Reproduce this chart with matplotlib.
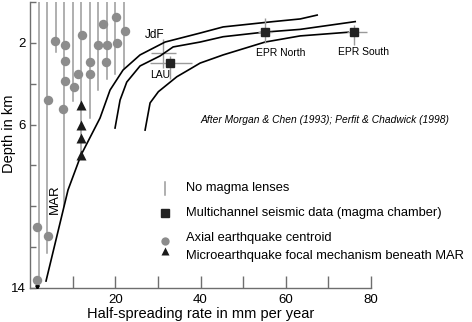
import matplotlib
matplotlib.use("Agg")

import matplotlib.pyplot as plt

plt.rcParams["font.family"] = ["Liberation Sans", "DejaVu Sans"]

GREY_LINE = "#9a9a9a"
GREY_DOT = "#8c8c8c"
AXIS_COL = "#6e6e6e"

# "No magma lenses": vertical bars from the sea floor down to depth (km)
lens_x = [2, 4, 6, 8, 10, 12, 14, 16, 18, 20, 22]
lens_bottom = [13.9, 12.3, 2.45, 10.0, 4.85, 7.65, 5.7, 4.3, 3.75, 3.5, 3.25]

# Axial earthquake centroids
quake_x = [1.6, 1.6, 4.15, 4.15, 5.9, 8.2, 8.2, 8.2, 7.8, 10.3, 11.3,
           12.1, 14.1, 14.1, 16.0, 17.1, 18.1, 17.8, 20.2, 20.5, 22.3]
quake_y = [11.0, 13.6, 4.8, 11.45, 1.9, 2.1, 2.88, 3.87, 5.24, 4.18, 3.5,
           1.62, 2.96, 3.5, 2.1, 1.09, 2.1, 2.96, 0.75, 2.0, 1.4]

# Microearthquake focal mechanisms beneath MAR
micro_x = [12, 12, 12, 12]
micro_y = [5.05, 6.03, 6.65, 7.5]

# Multichannel seismic data (magma chamber) with error bars
mcs_names = ["LAU", "EPR North", "EPR South"]
mcs_x = [32.9, 55.2, 76.0]
mcs_y = [3.0, 1.49, 1.49]
mcs_xerr = [[4.7, 1.7, 1.7], [5.1, 1.6, 3.0]]
mcs_yerr = [[0.35, 0.7, 0.36], [0.75, 0.5, 0.6]]

# JdF cross (no marker)
jdf_x, jdf_y = 31.3, 2.52
jdf_xerr, jdf_yerr = 3.0, 0.7

# envelope curves (depth vs half-spreading rate)
curve_a_x = [3.76, 8.92, 11.97, 16.43, 18.78, 21.83, 25.82, 31.69, 39.91, 45.31, 57.04, 63.38, 67.37]
curve_a_y = [13.66, 9.20, 7.49, 5.68, 4.31, 3.33, 2.59, 1.96, 1.52, 1.22, 0.96, 0.83, 0.64]
curve_b_x = [19.95, 21.13, 22.70, 25.82, 30.52, 33.57, 39.91, 45.31, 54.69, 63.38, 76.29]
curve_b_y = [6.17, 4.80, 3.92, 3.13, 2.64, 2.20, 1.96, 1.70, 1.48, 1.34, 0.96]
curve_c_x = [27.0, 28.17, 30.12, 34.44, 37.56, 39.91, 45.31, 55.16, 63.38, 74.65]
curve_c_y = [6.27, 4.94, 4.39, 3.66, 3.28, 2.99, 2.59, 1.96, 1.66, 1.48]

legend_labels = [
    "No magma lenses",
    "Multichannel seismic data (magma chamber)",
    "Axial earthquake centroid",
    "Microearthquake focal mechanism beneath MAR",
]

fig = plt.figure(figsize=(4.72, 3.22), dpi=100)
ax = fig.add_axes([30 / 472, 34 / 322, 341 / 472, 286 / 322])

# vertical "no magma lens" bars
for x, b in zip(lens_x, lens_bottom):
    ax.plot([x, x], [0, b], color=GREY_LINE, lw=1.1, zorder=1)
ax.plot([1.6], [13.95], marker="v", color="black", ms=2.5, zorder=3)

ax.plot(quake_x, quake_y, "o", color=GREY_DOT, ms=6.8, mec="none", zorder=2)
ax.plot(micro_x, micro_y, "^", color="#1a1a1a", ms=6.5, mec="none", zorder=3)

for cx, cy in [(curve_a_x, curve_a_y), (curve_b_x, curve_b_y), (curve_c_x, curve_c_y)]:
    ax.plot(cx, cy, color="black", lw=1.2, zorder=2)

ax.errorbar(jdf_x, jdf_y, xerr=jdf_xerr, yerr=jdf_yerr, fmt="none",
            ecolor=GREY_LINE, elinewidth=1.0, capsize=0, zorder=1)
ax.errorbar(mcs_x, mcs_y, xerr=mcs_xerr, yerr=mcs_yerr, fmt="s", color="#222222",
            ms=6, ecolor=GREY_LINE, elinewidth=1.0, capsize=0, zorder=3)

# site labels
ax.text(29.3, 1.62, "JdF", fontsize=8.5, ha="center", va="center")
ax.text(30.5, 3.58, "LAU", fontsize=7.5, ha="center", va="center")
ax.text(58.7, 2.52, "EPR North", fontsize=7.5, ha="center", va="center")
ax.text(78.2, 2.44, "EPR South", fontsize=7.5, ha="center", va="center")
ax.text(5.9, 9.65, "MAR", fontsize=9.5, rotation=90, ha="center", va="center")
ax.text(39.9, 5.78, "After Morgan & Chen (1993); Perfit & Chadwick (1998)",
        fontsize=7.4, style="italic", ha="left", va="center")

# hand-placed legend
sym_x, txt_x = 31.7, 36.5
leg_y = [9.1, 10.33, 11.55, 12.43]
ax.plot([sym_x, sym_x], [8.8, 9.45], color=GREY_LINE, lw=1.1)
ax.plot([sym_x], [10.33], "s", color="#222222", ms=5.5)
ax.plot([sym_x], [11.7], "o", color=GREY_DOT, ms=6, mec="none")
ax.plot([sym_x], [12.2], "^", color="#1a1a1a", ms=6, mec="none")
for y, lab in zip(leg_y, legend_labels):
    ax.text(txt_x, y, lab, fontsize=9.3, ha="left", va="center")

ax.set_xlim(0, 80)
ax.set_ylim(14, 0)

ax.set_xticks([10, 20, 30, 40, 50, 60, 70, 80])
ax.set_xticklabels(["", "20", "", "40", "", "60", "", "80"])
ax.set_yticks([0, 2, 4, 6, 8, 10, 12, 14])
ax.set_yticklabels(["", "2", "", "6", "", "", "", "14"])
ax.tick_params(axis="x", direction="in", length=9, width=1.0, color=AXIS_COL,
               labelsize=9.5, pad=4)
ax.tick_params(axis="y", direction="in", length=4.5, width=1.0, color=AXIS_COL,
               labelsize=9.5, pad=3)

for side in ["top", "right"]:
    ax.spines[side].set_visible(False)
for side in ["left", "bottom"]:
    ax.spines[side].set_color(AXIS_COL)
    ax.spines[side].set_linewidth(1.0)

ax.set_xlabel("Half-spreading rate in mm per year", fontsize=10.5, labelpad=1)
ax.set_ylabel("Depth in km", fontsize=10.5)
ax.yaxis.set_label_coords(-0.04, 0.54)

fig.savefig("out.png", dpi=100)
